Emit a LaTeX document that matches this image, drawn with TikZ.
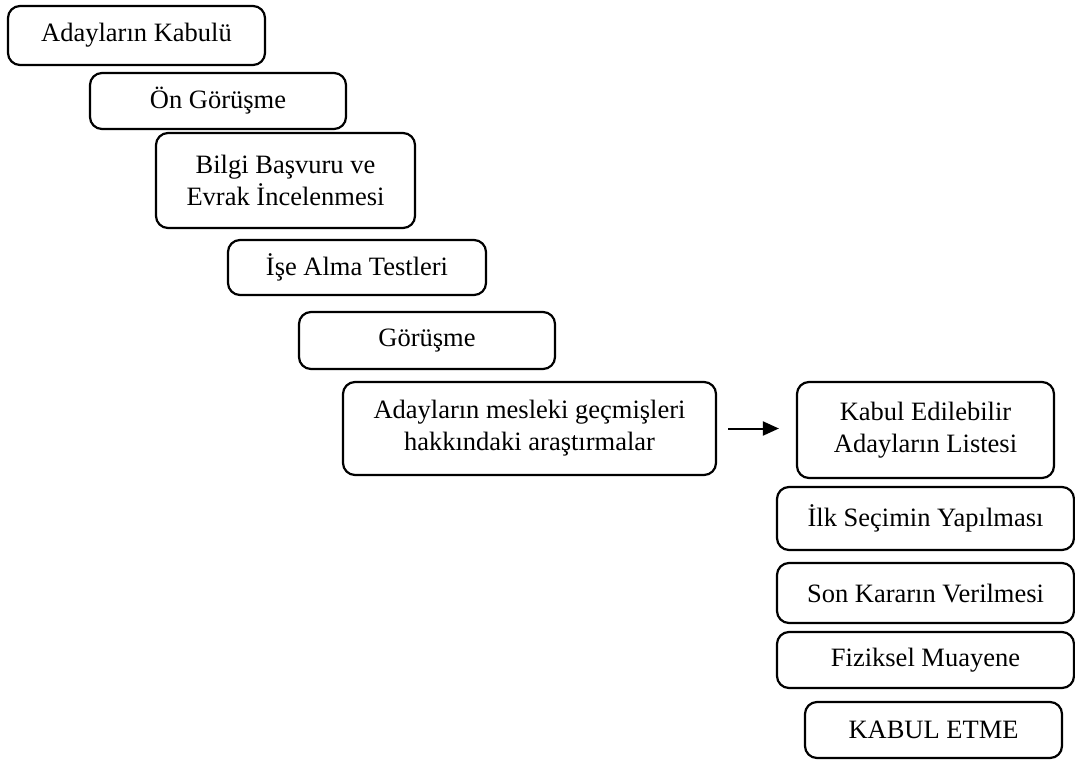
\documentclass[tikz,border=0pt]{standalone}
\usepackage{fontspec}
\setmainfont{Liberation Serif}
\usetikzlibrary{arrows.meta}
\begin{document}
\begin{tikzpicture}[x=0.5pt,y=-0.5pt,
  stepbox/.style={draw,line width=1.1pt,rounded corners=6pt,align=center,inner sep=0pt,
    font=\fontsize{13.25}{16}\selectfont},
  flow/.style={line width=1pt,-{Triangle[length=8pt,width=7pt]}}]
\useasboundingbox (0,0) rectangle (1075,760);
\node (kabulu) at (136.5,35.5) [stepbox,minimum width=128.5pt,minimum height=29.5pt] {Adayların Kabulü};
\node (ongor) at (218,101) [stepbox,minimum width=128pt,minimum height=28pt] {Ön Görüşme};
\node (evrak) at (285.5,180.5) [stepbox,minimum width=129.5pt,minimum height=47.5pt] {Bilgi Başvuru ve\\Evrak İncelenmesi};
\node (test) at (357,267.5) [stepbox,minimum width=129pt,minimum height=27.5pt] {İşe Alma Testleri};
\node (gor) at (427,340.5) [stepbox,minimum width=128pt,minimum height=28.5pt] {Görüşme};
\node (gecmis) at (529.5,428.5) [stepbox,minimum width=186.5pt,minimum height=46.5pt] {Adayların mesleki geçmişleri\\hakkındaki araştırmalar};
\node (liste) at (925.5,430) [stepbox,minimum width=128.5pt,minimum height=48pt] {Kabul Edilebilir\\Adayların Listesi};
\node (ilk) at (925.5,518.5) [stepbox,minimum width=148.5pt,minimum height=31.5pt] {İlk Seçimin Yapılması};
\node (son) at (925.5,593) [stepbox,minimum width=148.5pt,minimum height=30pt] {Son Kararın Verilmesi};
\node (muayene) at (925.5,660) [stepbox,minimum width=148.5pt,minimum height=28pt] {Fiziksel Muayene};
\node (etme) at (933.5,730) [stepbox,minimum width=128.5pt,minimum height=28pt] {KABUL ETME};
\draw[flow,shorten <=5.5pt,shorten >=8.5pt] (gecmis.east) -- (gecmis.east -| liste.west);
\end{tikzpicture}
\end{document}
